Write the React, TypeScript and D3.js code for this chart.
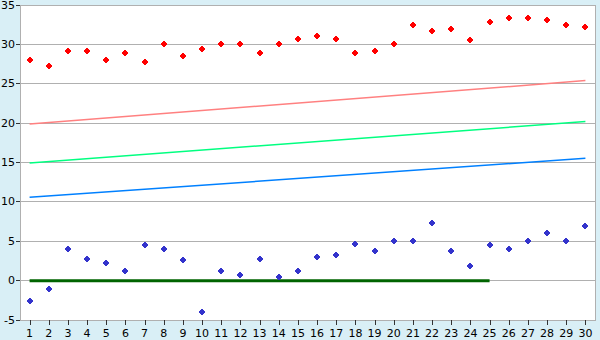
import React from "react";
import * as d3 from "d3";

const days = d3.range(1, 31);
const upperValues = [28, 27.2, 29.1, 29.1, 28, 28.9, 27.8, 30, 28.5, 29.4, 30, 30, 28.9, 30, 30.7, 31, 30.7, 28.9, 29.1, 30, 32.4, 31.7, 32, 30.5, 32.8, 33.4, 33.4, 33.1, 32.4, 32.2];
const lowerValues = [-2.6, -1.1, 4, 2.8, 2.2, 1.2, 4.5, 4, 2.6, -4, 1.2, 0.7, 2.8, 0.4, 1.2, 3, 3.2, 4.7, 3.8, 5, 5, 7.3, 3.8, 1.8, 4.5, 4, 5, 6, 5, 7];
// trend lines: values at first and last day
const lineDays = [1, 30];
const redTrend = [19.9, 25.4];
const greenTrend = [14.95, 20.2];
const blueTrend = [10.58, 15.53];
const zeroDays = [1, 25];
const zeroLine = [0, 0];
const yTicks = [-5, 0, 5, 10, 15, 20, 25, 30, 35];

const W = 600, H = 340;
const L = 20, R = 595, T = 5, B = 320;

const markerPath = "M-1,-3h2v1h1v1h1v2h-1v1h-1v1h-2v-1h-1v-1h-1v-2h1v-1h1z";

export default function App() {
  const x = d3.scalePoint<number>().domain(days).range([L, R]).padding(0.5);
  const y = d3.scaleLinear().domain([-5, 35]).range([B, T]);
  const px = (d: number) => Math.round(x(d)!) + 0.5;
  const py = (v: number) => Math.floor(y(v)) + 0.5;
  const line = d3.line<[number, number]>().x((d) => x(d[0])!).y((d) => y(d[1]));
  const trend = (vals: number[]) => line(lineDays.map((d, i) => [d, vals[i]] as [number, number]))!;
  const font = "'DejaVu Sans', Verdana, sans-serif";
  return (
    <svg width={W} height={H} style={{ position: "absolute", left: 0, top: 0, display: "block" }}>
      <rect x={0} y={0} width={W} height={H} fill="#d9eff6" />
      <rect x={L} y={T} width={R - L} height={B - T} fill="#ffffff" />
      {yTicks.map((t) => (
        <g key={t}>
          <line x1={L} x2={R} y1={py(t)} y2={py(t)} stroke="#b0b0b0" strokeWidth={1} />
          <line x1={L - 4} x2={L} y1={py(t)} y2={py(t)} stroke="#333" strokeWidth={1} />
          <text x={15} y={py(t)} dy="0.36em" textAnchor="end" fontFamily={font} fontSize={11} fill="#000">{t}</text>
        </g>
      ))}
      <line x1={L + 0.5} x2={L + 0.5} y1={T} y2={B + 1} stroke="#b0b0b0" />
      <line x1={R + 0.5} x2={R + 0.5} y1={T} y2={B + 1} stroke="#b0b0b0" />
      {days.map((d) => (
        <g key={d}>
          <line x1={px(d)} x2={px(d)} y1={B} y2={B + 5} stroke="#333" />
          <text x={x(d)} y={337} textAnchor="middle" fontFamily={font} fontSize={11} fill="#000">{d}</text>
        </g>
      ))}
      <path d={trend(redTrend)} fill="none" stroke="#ff8080" strokeWidth={1.5} />
      <path d={trend(greenTrend)} fill="none" stroke="#00ff80" strokeWidth={1.5} />
      <path d={trend(blueTrend)} fill="none" stroke="#0080ff" strokeWidth={1.5} />
      <path d={line(zeroDays.map((d, i) => [d, zeroLine[i]] as [number, number]))!} fill="none" stroke="#006400" strokeWidth={3} />
      {upperValues.map((v, i) => (
        <path key={"u" + i} d={markerPath} transform={`translate(${Math.round(x(days[i])!)},${Math.round(y(v))})`} fill="#ff0000" />
      ))}
      {lowerValues.map((v, i) => (
        <path key={"l" + i} d={markerPath} transform={`translate(${Math.round(x(days[i])!)},${Math.round(y(v))})`} fill="#3333cc" />
      ))}
    </svg>
  );
}
